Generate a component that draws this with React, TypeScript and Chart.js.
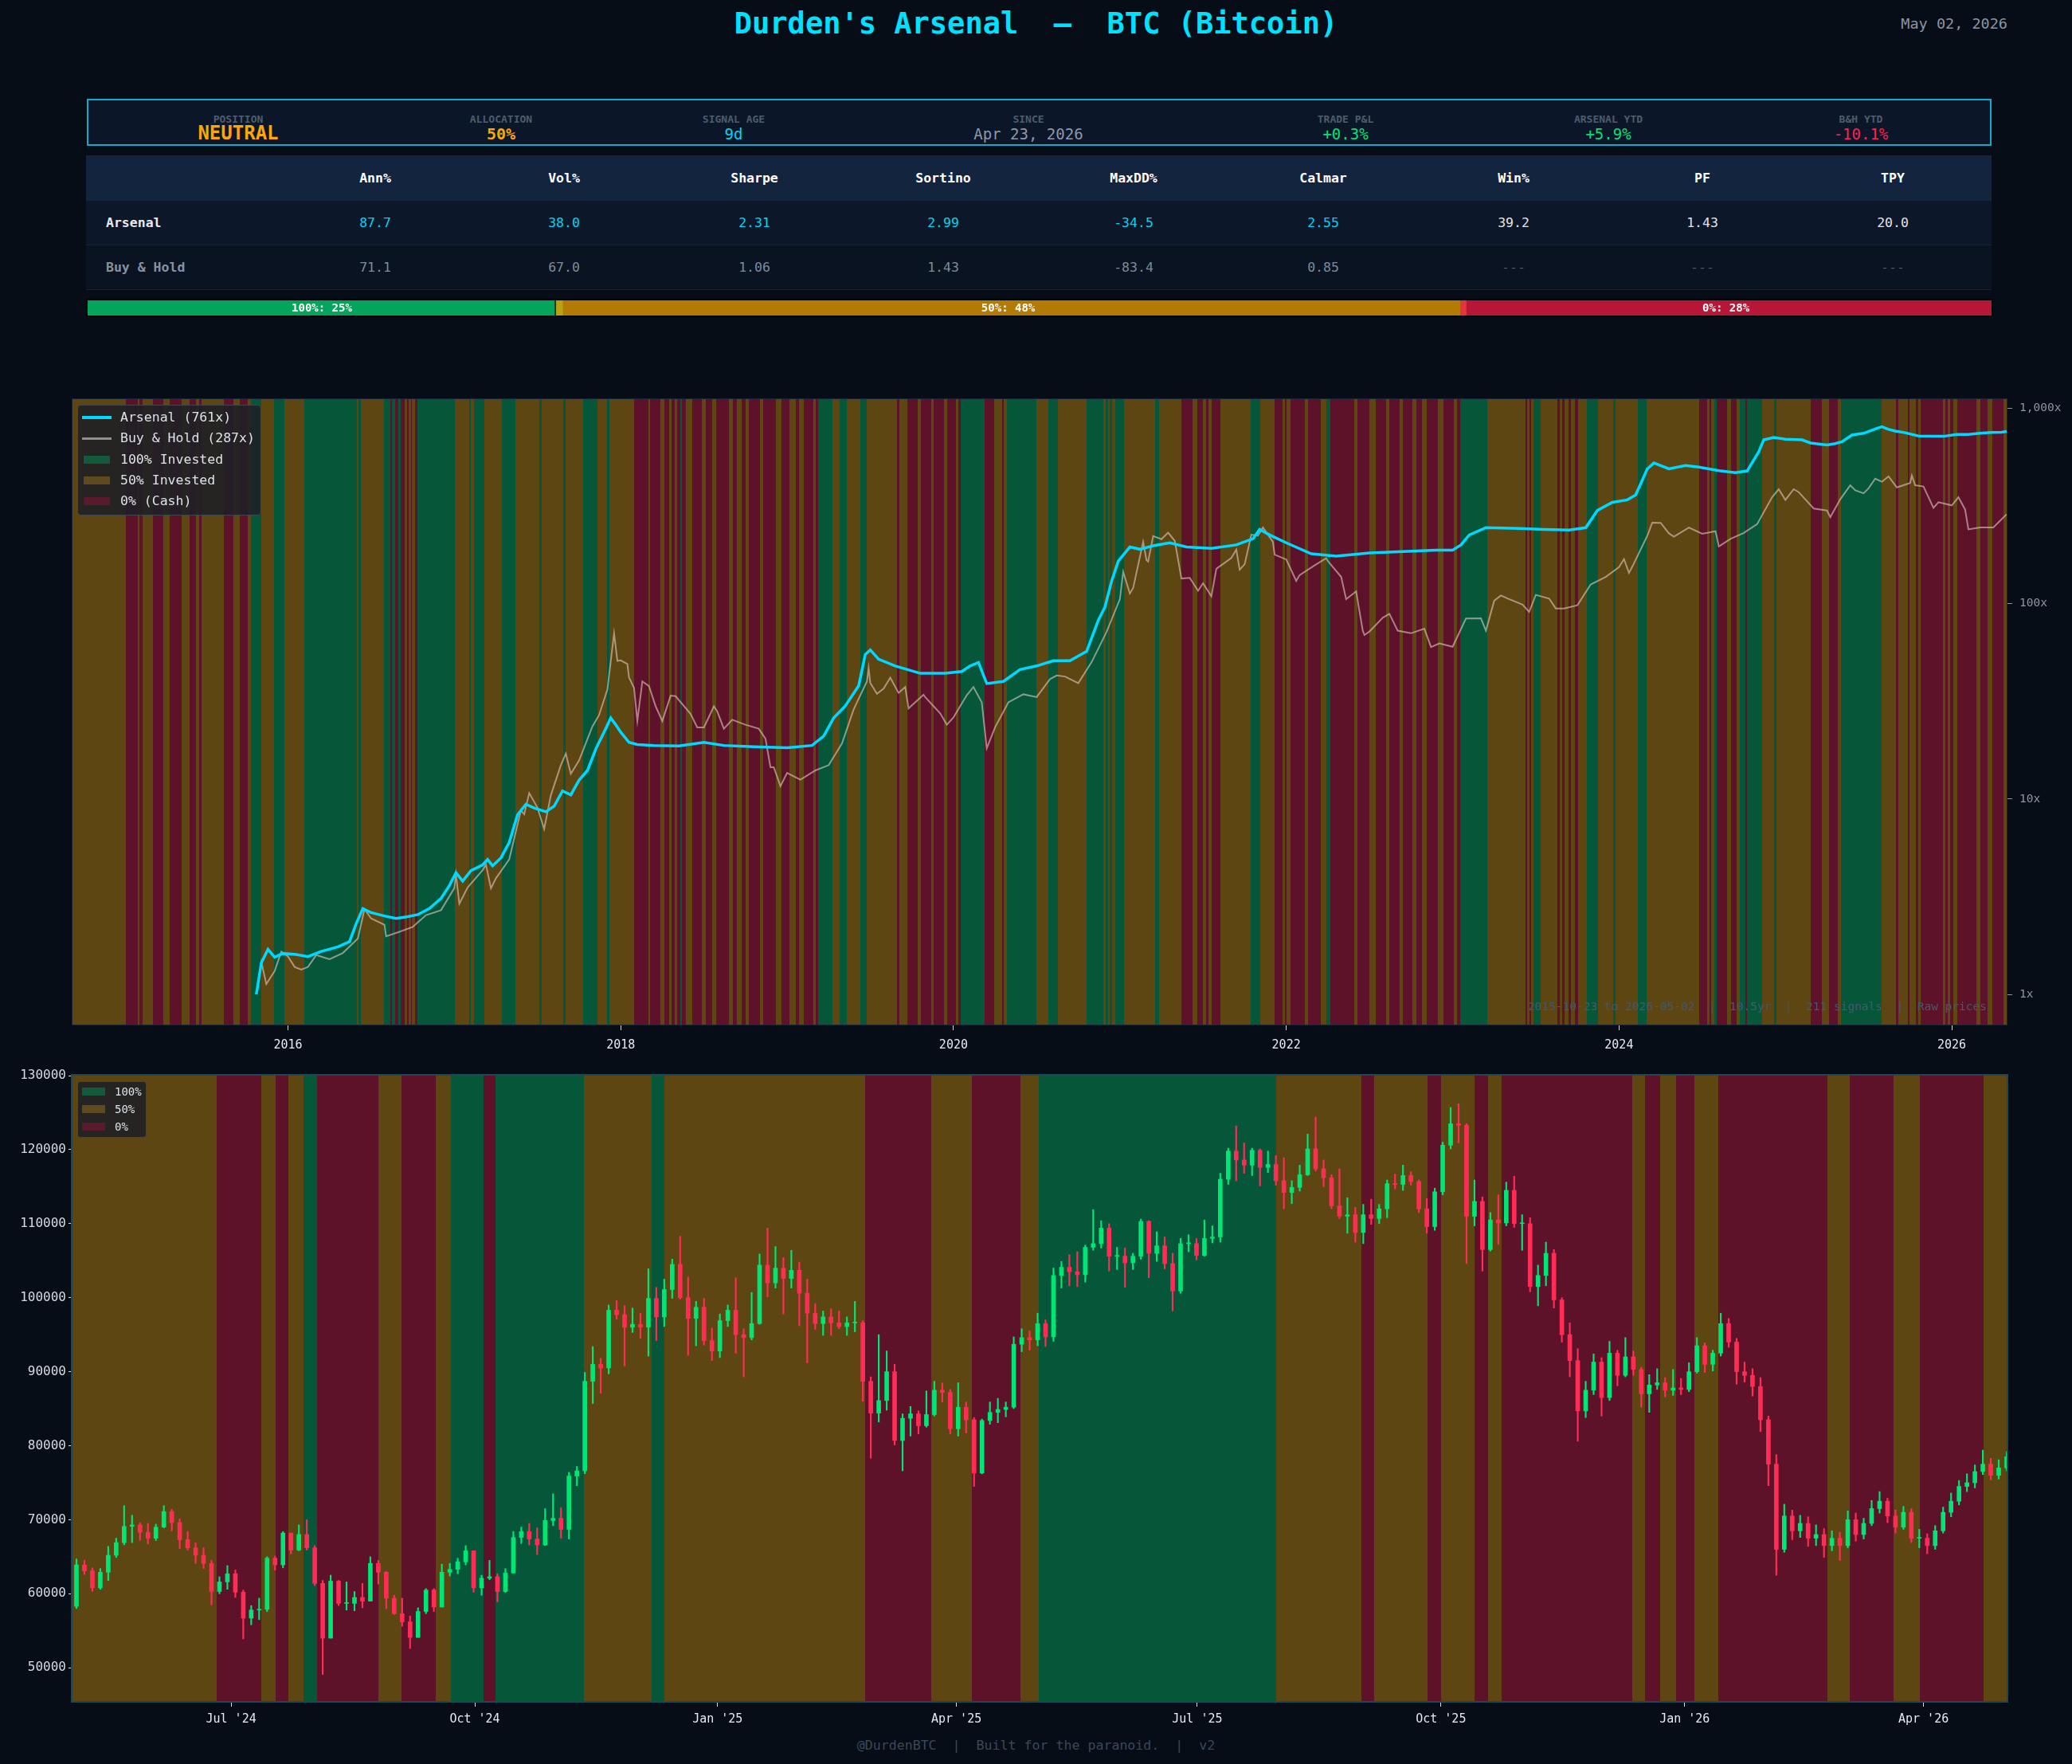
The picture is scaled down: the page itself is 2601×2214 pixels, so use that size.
import React, { useEffect, useRef } from 'react';
import { Chart, registerables } from 'chart.js';
Chart.register(...registerables);

const FONT = "'DejaVu Sans Mono', monospace";
const PAGE_BG = '#070d17';

// ---------------- data ----------------
const TITLE = "Durden's Arsenal  \u2014  BTC (Bitcoin)";
const REPORT_DATE = 'May 02, 2026';
const infoLabels = ['POSITION', 'ALLOCATION', 'SIGNAL AGE', 'SINCE', 'TRADE P&L', 'ARSENAL YTD', 'B&H YTD'];
const infoValues = ['NEUTRAL', '50%', '9d', 'Apr 23, 2026', '+0.3%', '+5.9%', '-10.1%'];

const statColumns = ['Ann%', 'Vol%', 'Sharpe', 'Sortino', 'MaxDD%', 'Calmar', 'Win%', 'PF', 'TPY'];
const arsenalStats = ['87.7', '38.0', '2.31', '2.99', '-34.5', '2.55', '39.2', '1.43', '20.0'];
const buyHoldStats = ['71.1', '67.0', '1.06', '1.43', '-83.4', '0.85', '---', '---', '---'];

const allocLabels = ['100%', '50%', '0%'];
const allocShare = [24.6, 47.5, 27.9];

// regime bands: start (decimal year) and state (2 = 100%, 1 = 50%, 0 = cash)
const bandStarts = [
  2014.705, 2015.024, 2015.099, 2015.109, 2015.124, 2015.189, 2015.252, 2015.290, 2015.362, 2015.410,
  2015.445, 2015.465, 2015.483, 2015.615, 2015.673, 2015.711, 2015.756, 2015.776, 2015.838, 2015.916,
  2015.979, 2016.099, 2016.412, 2016.424, 2016.437, 2016.577, 2016.615, 2016.625, 2016.645, 2016.665,
  2016.677, 2016.702, 2016.715, 2016.725, 2016.738, 2016.745, 2016.763, 2016.778, 2017.003, 2017.088,
  2017.101, 2017.116, 2017.178, 2017.284, 2017.366, 2017.512, 2017.524, 2017.654, 2017.669, 2017.772,
  2017.860, 2017.917, 2017.932, 2018.080, 2018.165, 2018.175, 2018.238, 2018.263, 2018.293, 2018.306,
  2018.323, 2018.341, 2018.356, 2018.366, 2018.391, 2018.431, 2018.489, 2018.511, 2018.549, 2018.574,
  2018.650, 2018.675, 2018.700, 2018.725, 2018.750, 2018.768, 2018.838, 2018.856, 2018.933, 2018.968,
  2019.016, 2019.051, 2019.073, 2019.101, 2019.156, 2019.171, 2019.186, 2019.271, 2019.314, 2019.357,
  2019.442, 2019.477, 2019.662, 2019.675, 2019.725, 2019.785, 2019.805, 2019.868, 2019.883, 2019.943,
  2019.960, 2020.013, 2020.028, 2020.045, 2020.186, 2020.246, 2020.291, 2020.303, 2020.323, 2020.496,
  2020.569, 2020.627, 2020.802, 2020.902, 2020.915, 2020.927, 2020.940, 2020.955, 2020.972, 2021.027,
  2021.213, 2021.238, 2021.368, 2021.436, 2021.466, 2021.501, 2021.516, 2021.531, 2021.551, 2021.603,
  2021.784, 2021.842, 2021.929, 2021.979, 2021.992, 2022.004, 2022.024, 2022.110, 2022.132, 2022.207,
  2022.242, 2022.267, 2022.408, 2022.428, 2022.499, 2022.536, 2022.598, 2022.618, 2022.680, 2022.700,
  2022.759, 2022.782, 2022.816, 2022.846, 2022.911, 2022.943, 2023.005, 2023.025, 2023.045, 2023.206,
  2023.437, 2023.449, 2023.461, 2023.474, 2023.486, 2023.528, 2023.628, 2023.643, 2023.660, 2023.675,
  2023.697, 2023.710, 2023.734, 2023.752, 2023.809, 2023.873, 2023.965, 2023.977, 2024.111, 2024.166,
  2024.482, 2024.528, 2024.543, 2024.556, 2024.572, 2024.586, 2024.649, 2024.673, 2024.709, 2024.724,
  2024.758, 2024.770, 2024.862, 2024.932, 2024.945, 2025.153, 2025.221, 2025.263, 2025.313, 2025.332,
  2025.578, 2025.666, 2025.679, 2025.734, 2025.748, 2025.783, 2025.797, 2025.811, 2025.946, 2025.959,
  2025.975, 2025.991, 2026.010, 2026.035, 2026.148, 2026.171, 2026.216, 2026.243, 2026.309,
];
const bandStates = [
  1, 0, 1, 0, 1, 0, 1, 0, 1, 0,
  1, 0, 1, 0, 1, 0, 1, 2, 1, 2,
  1, 2, 1, 2, 1, 2, 0, 2, 0, 2,
  0, 1, 0, 1, 0, 1, 0, 2, 1, 2,
  1, 2, 1, 2, 1, 2, 1, 2, 1, 2,
  1, 2, 1, 0, 1, 0, 1, 0, 1, 0,
  1, 0, 2, 0, 1, 0, 1, 0, 1, 0,
  1, 0, 1, 0, 1, 0, 1, 0, 1, 0,
  1, 0, 1, 0, 1, 0, 2, 1, 2, 1,
  2, 1, 0, 1, 0, 1, 0, 1, 0, 1,
  0, 1, 0, 2, 0, 1, 0, 1, 2, 1,
  2, 1, 2, 1, 2, 1, 2, 1, 2, 1,
  2, 1, 0, 1, 0, 1, 0, 1, 0, 1,
  2, 1, 0, 1, 0, 1, 0, 1, 0, 1,
  2, 0, 1, 0, 1, 0, 1, 0, 1, 0,
  1, 0, 1, 0, 1, 0, 1, 0, 2, 1,
  0, 1, 0, 1, 2, 1, 0, 1, 0, 1,
  0, 1, 0, 1, 2, 1, 2, 1, 2, 1,
  0, 1, 0, 1, 2, 0, 1, 0, 1, 2,
  0, 2, 1, 2, 1, 0, 1, 0, 1, 2,
  1, 0, 1, 0, 1, 0, 1, 0, 1, 0,
  1, 0, 1, 0, 1, 0, 1, 0, 1,
];

// Arsenal equity multiple
const arsenalYears = [
  2015.81, 2015.84, 2015.88, 2015.92, 2015.97, 2016.05, 2016.12, 2016.20, 2016.30, 2016.37,
  2016.41, 2016.45, 2016.50, 2016.58, 2016.65, 2016.72, 2016.78, 2016.85, 2016.92, 2016.97,
  2017.01, 2017.05, 2017.10, 2017.17, 2017.20, 2017.23, 2017.28, 2017.33, 2017.38, 2017.43,
  2017.48, 2017.55, 2017.60, 2017.65, 2017.70, 2017.75, 2017.80, 2017.85, 2017.90, 2017.94,
  2017.97, 2018.00, 2018.05, 2018.10, 2018.20, 2018.35, 2018.50, 2018.62, 2018.80, 2019.00,
  2019.15, 2019.22, 2019.28, 2019.35, 2019.43, 2019.47, 2019.50, 2019.55, 2019.65, 2019.80,
  2019.95, 2020.05, 2020.10, 2020.15, 2020.20, 2020.30, 2020.40, 2020.50, 2020.60, 2020.70,
  2020.80, 2020.87, 2020.91, 2020.95, 2020.99, 2021.06, 2021.12, 2021.20, 2021.30, 2021.40,
  2021.55, 2021.70, 2021.80, 2021.84, 2021.90, 2022.00, 2022.15, 2022.30, 2022.50, 2022.70,
  2022.90, 2023.00, 2023.05, 2023.10, 2023.20, 2023.40, 2023.55, 2023.70, 2023.80, 2023.87,
  2023.96, 2024.05, 2024.10, 2024.17, 2024.21, 2024.30, 2024.40, 2024.48, 2024.60, 2024.70,
  2024.77, 2024.84, 2024.87, 2024.93, 2025.00, 2025.10, 2025.15, 2025.25, 2025.30, 2025.34,
  2025.40, 2025.47, 2025.55, 2025.58, 2025.62, 2025.66, 2025.72, 2025.80, 2025.95, 2026.03,
  2026.10, 2026.17, 2026.24, 2026.30, 2026.33,
];
const arsenalMult = [
  1.00, 1.45, 1.70, 1.55, 1.62, 1.60, 1.56, 1.66, 1.75, 1.86,
  2.30, 2.75, 2.62, 2.52, 2.45, 2.50, 2.56, 2.75, 3.10, 3.60,
  4.20, 3.80, 4.30, 4.60, 4.90, 4.55, 5.00, 6.00, 8.30, 9.40,
  9.00, 8.60, 9.20, 11.0, 10.5, 12.5, 14.0, 18.0, 22.0, 26.0,
  24.0, 22.0, 19.5, 19.0, 18.8, 18.7, 19.5, 18.8, 18.5, 18.3,
  18.8, 21.0, 26.0, 30.0, 38.0, 55.0, 58.0, 52.0, 48.0, 44.0,
  44.0, 45.0, 48.0, 50.0, 39.0, 40.0, 46.0, 48.0, 51.0, 51.0,
  57.0, 82.0, 96.0, 130, 165, 195, 190, 198, 205, 195,
  192, 200, 215, 240, 225, 205, 180, 175, 182, 185,
  188, 188, 200, 225, 245, 243, 240, 238, 245, 300,
  330, 340, 360, 490, 525, 490, 510, 500, 480, 468,
  478, 600, 690, 710, 695, 690, 665, 650, 660, 675,
  730, 745, 790, 805, 780, 765, 750, 722, 719, 735,
  735, 745, 752, 754, 761,
];

// BTC price (USD) for Buy & Hold
const btcYears = [
  2015.81, 2015.84, 2015.87, 2015.92, 2015.96, 2016.00, 2016.04, 2016.08, 2016.12, 2016.17,
  2016.25, 2016.33, 2016.42, 2016.46, 2016.50, 2016.58, 2016.59, 2016.67, 2016.75, 2016.83,
  2016.92, 2017.00, 2017.01, 2017.03, 2017.08, 2017.17, 2017.19, 2017.22, 2017.25, 2017.33,
  2017.40, 2017.42, 2017.45, 2017.50, 2017.54, 2017.58, 2017.64, 2017.67, 2017.70, 2017.75,
  2017.83, 2017.87, 2017.92, 2017.96, 2017.98, 2018.00, 2018.04, 2018.05, 2018.08, 2018.10,
  2018.13, 2018.17, 2018.21, 2018.25, 2018.30, 2018.33, 2018.42, 2018.46, 2018.50, 2018.56,
  2018.58, 2018.62, 2018.67, 2018.75, 2018.83, 2018.87, 2018.90, 2018.92, 2018.96, 2019.00,
  2019.08, 2019.17, 2019.25, 2019.33, 2019.40, 2019.42, 2019.48, 2019.49, 2019.50, 2019.54,
  2019.58, 2019.62, 2019.67, 2019.71, 2019.73, 2019.75, 2019.82, 2019.83, 2019.92, 2019.96,
  2020.00, 2020.08, 2020.12, 2020.17, 2020.20, 2020.25, 2020.33, 2020.42, 2020.50, 2020.58,
  2020.62, 2020.67, 2020.75, 2020.83, 2020.92, 2021.00, 2021.02, 2021.06, 2021.08, 2021.14,
  2021.16, 2021.17, 2021.20, 2021.25, 2021.29, 2021.33, 2021.37, 2021.42, 2021.47, 2021.50,
  2021.55, 2021.58, 2021.67, 2021.70, 2021.72, 2021.75, 2021.79, 2021.83, 2021.86, 2021.92,
  2021.93, 2022.00, 2022.06, 2022.08, 2022.17, 2022.24, 2022.25, 2022.33, 2022.36, 2022.42,
  2022.46, 2022.47, 2022.50, 2022.58, 2022.62, 2022.67, 2022.75, 2022.83, 2022.87, 2022.92,
  2023.00, 2023.08, 2023.17, 2023.20, 2023.25, 2023.29, 2023.33, 2023.42, 2023.46, 2023.50,
  2023.58, 2023.62, 2023.67, 2023.75, 2023.83, 2023.92, 2024.00, 2024.03, 2024.06, 2024.08,
  2024.17, 2024.20, 2024.25, 2024.30, 2024.33, 2024.42, 2024.50, 2024.58, 2024.60, 2024.67,
  2024.75, 2024.83, 2024.92, 2024.96, 2025.00, 2025.05, 2025.08, 2025.17, 2025.25, 2025.27,
  2025.33, 2025.39, 2025.42, 2025.47, 2025.50, 2025.54, 2025.58, 2025.62, 2025.67, 2025.75,
  2025.76, 2025.78, 2025.83, 2025.89, 2025.92, 2026.00, 2026.04, 2026.08, 2026.10, 2026.17,
  2026.25, 2026.33,
];
const btcPrice = [
  275, 403, 311, 362, 455, 430, 380, 368, 380, 437,
  416, 448, 531, 750, 673, 624, 545, 575, 609, 700,
  742, 963, 1130, 800, 970, 1190, 1270, 960, 1080, 1350,
  2400, 2300, 2950, 2480, 1930, 2875, 4100, 4700, 3700, 4340,
  6470, 7400, 10000, 19400, 14000, 14100, 13500, 11500, 10200, 6900,
  11000, 10400, 8200, 6900, 9300, 9240, 7500, 6400, 6400, 8200,
  7730, 6300, 7000, 6600, 6300, 5600, 4000, 4000, 3200, 3740,
  3450, 3850, 4100, 5300, 7900, 8600, 11000, 12900, 10800, 9500,
  10100, 11500, 9600, 10300, 8000, 8300, 9400, 9150, 7550, 6600,
  7200, 9350, 10300, 8600, 5000, 6400, 8600, 9450, 9140, 11300,
  11800, 11650, 10780, 13800, 19700, 29000, 40000, 31000, 33100, 57000,
  46000, 45200, 61000, 58800, 63500, 57700, 37000, 37300, 32000, 35000,
  30000, 41500, 47100, 52000, 41000, 43800, 62000, 61300, 67500, 57000,
  49000, 46300, 36000, 38500, 43200, 47000, 45500, 37700, 29000, 31800,
  20000, 19000, 19800, 23300, 24400, 20000, 19400, 20500, 16500, 17200,
  16550, 23100, 23150, 20000, 28500, 30300, 29250, 27200, 25000, 30500,
  29200, 26000, 26000, 27000, 34500, 37700, 42300, 46500, 39500, 42600,
  61200, 71500, 71300, 63000, 60600, 67500, 62700, 64600, 54000, 59000,
  63300, 70200, 96400, 106000, 93400, 106000, 102400, 84400, 82500, 76300,
  94200, 111000, 104600, 101000, 107100, 120000, 115700, 123300, 108200, 114000,
  124500, 111000, 109500, 85000, 91000, 87600, 96500, 83500, 66000, 67500,
  67500, 78900,
];

const multTickValues = [1, 10, 100, 1000];
const multTickLabels = ['1x', '10x', '100x', '1,000x'];
const yearTicks = [2016, 2018, 2020, 2022, 2024, 2026];
const TOP_X_MIN = 2014.705;
const TOP_X_MAX = 2026.33;
const TOP_Y_MIN = 0.73;
const TOP_Y_MAX = 1114;

// Candles (3-day bars, thousands of USD), first bar opens 2024-05-02
const CANDLE_START = 2024.333;
const CANDLE_STEP_DAYS = 3;
const candleFirstOpen = 58.3;
const candleClose = [
  63.9, 63.1, 60.8, 62.9, 65.2, 66.9, 69.1, 69.3, 68.3, 67.5,
  69.0, 71.1, 69.6, 67.3, 66.2, 65.2, 64.1, 60.3, 61.6, 62.7,
  60.2, 56.7, 57.8, 57.9, 64.8, 63.9, 68.2, 65.9, 68.0, 66.2,
  61.4, 54.0, 61.7, 58.7, 58.7, 59.5, 59.0, 64.1, 62.9, 59.4,
  57.3, 56.2, 54.1, 57.6, 60.5, 58.2, 62.9, 63.3, 64.3, 65.8,
  60.8, 62.1, 62.3, 60.3, 62.8, 67.6, 68.4, 67.4, 66.6, 69.9, 70.2,
  68.7, 75.9, 76.6, 88.7, 91.0, 90.5, 98.3, 97.7, 96.0, 96.4,
  96.0, 99.9, 97.4, 101.1, 104.5, 100.0, 97.2, 98.7, 94.2, 92.8,
  96.9, 98.3, 95.0, 94.6, 96.5, 104.4, 102.0, 104.0, 102.6, 103.7,
  100.6, 97.9, 96.5, 97.4, 96.6, 96.1, 96.6, 96.6, 88.7, 84.4,
  86.1, 90.0, 80.7, 83.7, 84.3, 82.7, 84.2, 87.5, 87.2, 82.3,
  85.2, 83.5, 76.3, 83.4, 84.5, 84.9, 85.2, 93.7, 94.6, 94.3,
  96.5, 94.7, 103.0, 104.1, 103.5, 103.1, 106.8, 107.3, 109.4, 105.6,
  105.6, 104.7, 105.6, 110.3, 106.0, 107.0, 104.6, 100.9, 107.3, 107.3,
  105.7, 108.0, 108.2, 116.0, 119.8, 118.6, 117.9, 119.9, 117.6, 118.0, 115.8,
  114.2, 114.9, 116.6, 120.1, 117.4, 116.2, 112.4, 111.0, 111.2, 108.8,
  111.2, 110.7, 112.0, 115.4, 115.3, 116.5, 115.7, 112.0, 109.6, 114.3,
  120.6, 123.5, 123.3, 111.0, 113.0, 106.5, 110.5, 110.1, 114.5, 110.0,
  110.0, 101.5, 103.0, 106.0, 99.7, 95.0, 91.5, 84.7, 87.5, 91.3,
  86.5, 92.5, 89.5, 92.0, 90.3, 87.0, 88.2, 88.5, 87.5, 87.8, 87.6,
  90.0, 93.5, 91.0, 92.5, 96.5, 94.0, 90.0, 89.5, 88.0, 83.5,
  77.5, 66.0, 70.5, 68.5, 69.5, 67.5, 68.0, 66.5, 67.5,
  66.5, 70.0, 68.0, 69.5, 71.5, 72.5, 70.5, 69.0, 71.0, 67.5, 67.5,
  66.5, 68.5, 71.0, 72.5, 74.5, 75.0, 76.5, 77.5, 76.0, 77.0,
  78.5,
];
const candleHigh = [
  64.7, 64.5, 63.5, 63.4, 66.4, 67.5, 71.9, 70.6, 69.6, 69.5,
  69.4, 71.9, 71.4, 70.1, 68.4, 66.9, 66.2, 64.5, 62.3, 63.8,
  63.2, 60.5, 58.4, 59.4, 65.0, 65.1, 68.4, 68.2, 69.3, 70.0,
  66.5, 61.8, 62.5, 61.8, 61.6, 60.3, 61.4, 65.0, 64.5, 63.0,
  59.8, 59.4, 57.0, 58.1, 60.7, 60.7, 64.0, 64.1, 64.8, 66.5,
  65.8, 62.5, 64.5, 62.7, 63.4, 68.4, 69.0, 69.5, 68.9, 71.5, 73.5,
  71.6, 76.4, 77.2, 89.9, 93.4, 91.8, 99.0, 99.6, 98.9, 98.6,
  97.9, 103.9, 101.4, 102.5, 105.2, 108.3, 102.8, 99.5, 99.9, 95.9,
  97.8, 99.0, 102.7, 95.8, 100.7, 105.9, 109.4, 106.9, 105.4, 106.4,
  104.8, 102.5, 99.2, 98.2, 98.5, 98.2, 97.4, 99.5, 96.9, 89.3,
  95.0, 92.8, 91.0, 84.3, 85.3, 84.7, 87.4, 88.7, 88.5, 87.6,
  88.5, 85.9, 83.8, 83.6, 85.9, 86.4, 85.9, 94.7, 95.8, 95.5,
  97.9, 97.0, 104.0, 104.9, 105.8, 106.2, 107.1, 111.9, 110.4, 110.0,
  106.8, 106.7, 106.0, 110.6, 110.4, 108.9, 108.2, 106.0, 108.0, 108.5,
  108.0, 110.5, 109.7, 116.8, 120.2, 123.2, 120.9, 120.2, 120.1, 119.8, 119.2,
  118.9, 115.8, 117.9, 122.1, 124.4, 118.6, 116.6, 117.4, 113.5, 112.2,
  112.6, 113.3, 112.6, 115.9, 116.7, 117.9, 117.0, 115.9, 113.4, 114.8,
  121.0, 125.7, 126.2, 123.5, 115.9, 113.6, 111.5, 113.9, 115.6, 116.4,
  111.2, 110.8, 104.4, 107.5, 106.5, 100.0, 96.6, 93.1, 88.7, 92.4,
  91.9, 94.1, 92.9, 94.6, 92.8, 90.6, 89.6, 90.4, 89.2, 90.3, 89.1,
  91.2, 94.6, 93.9, 92.9, 97.9, 97.2, 94.5, 91.3, 90.4, 89.2,
  84.0, 78.8, 72.1, 71.3, 70.6, 70.4, 69.3, 68.8, 68.5,
  68.3, 71.2, 70.9, 70.2, 72.6, 73.8, 72.9, 71.3, 71.8, 71.5, 68.7,
  68.1, 69.2, 71.7, 73.6, 75.3, 76.2, 77.4, 79.4, 78.3, 78.1,
  79.2,
];
const candleLow = [
  58.0, 62.6, 60.3, 60.6, 61.8, 64.9, 66.6, 66.9, 67.2, 66.7,
  67.2, 68.9, 68.5, 66.1, 65.9, 64.1, 63.4, 58.5, 60.0, 60.6,
  59.5, 53.9, 55.8, 56.5, 57.6, 63.2, 63.5, 65.4, 65.8, 65.9,
  61.1, 49.1, 54.0, 58.4, 57.8, 57.7, 58.1, 59.0, 61.3, 58.0,
  57.2, 55.6, 52.6, 54.1, 57.3, 57.6, 58.2, 62.4, 62.7, 63.9,
  60.2, 59.8, 61.9, 58.9, 60.2, 62.8, 66.8, 66.6, 65.3, 66.5, 69.2,
  67.5, 67.4, 74.6, 76.2, 85.7, 87.1, 89.7, 97.1, 90.8, 95.3,
  94.5, 92.1, 94.2, 96.1, 99.9, 99.8, 92.2, 93.5, 93.6, 91.5,
  91.9, 96.1, 92.5, 89.3, 94.3, 96.4, 100.1, 101.3, 97.8, 101.3,
  96.2, 91.2, 95.7, 94.9, 94.9, 95.8, 94.9, 95.4, 86.0, 78.3,
  83.2, 84.8, 80.1, 76.6, 81.3, 81.6, 82.5, 84.0, 85.9, 81.6,
  81.3, 81.7, 74.5, 76.2, 82.9, 83.1, 83.9, 85.0, 92.7, 92.9,
  93.5, 93.4, 94.1, 101.3, 101.6, 101.5, 102.1, 106.4, 106.7, 103.6,
  103.8, 101.4, 103.8, 105.2, 102.7, 104.9, 103.9, 98.2, 100.6, 106.2,
  105.1, 105.6, 107.4, 107.5, 115.3, 115.8, 116.8, 116.5, 115.1, 116.9, 115.2,
  112.0, 112.7, 114.4, 116.5, 117.1, 115.0, 112.0, 110.7, 108.7, 107.5,
  107.3, 109.9, 110.0, 110.8, 114.7, 114.5, 115.2, 111.5, 108.7, 109.1,
  113.9, 120.1, 120.9, 104.6, 109.7, 103.6, 106.3, 107.2, 109.7, 109.5,
  106.4, 100.8, 98.9, 101.6, 98.6, 94.0, 89.3, 80.6, 83.8, 86.9,
  84.0, 86.1, 88.1, 89.3, 89.5, 85.2, 84.5, 87.6, 86.6, 86.8, 86.9,
  87.3, 89.8, 89.9, 90.1, 92.1, 93.3, 88.3, 88.6, 86.7, 81.9,
  74.6, 62.5, 65.6, 67.3, 67.6, 66.4, 66.5, 64.9, 65.8,
  64.5, 66.2, 67.1, 67.4, 69.2, 70.9, 69.6, 68.2, 68.7, 66.9, 66.2,
  65.4, 66.0, 68.2, 70.4, 72.0, 73.8, 74.3, 76.1, 75.4, 75.5,
  76.6,
];
const BOT_X_MIN = 2024.333;
const BOT_X_MAX = 2026.333;
const BOT_Y_MIN = 45500;
const BOT_Y_MAX = 130000;
const priceTicks = [50000, 60000, 70000, 80000, 90000, 100000, 110000, 120000, 130000];
const monthTickYears = [2024.497, 2024.749, 2025.0, 2025.247, 2025.496, 2025.748, 2026.0, 2026.247];
const monthTickLabels = ["Jul '24", "Oct '24", "Jan '25", "Apr '25", "Jul '25", "Oct '25", "Jan '26", "Apr '26"];

// ---------------- styles ----------------
const BAND_COLORS = ['#5e1229', '#5d4612', '#06573a'];
const UP = '#00e676';
const DOWN = '#ff2d55';
const infoCenters = [299, 629, 921, 1291, 1689, 2019, 2336];
const infoColors = ['#ffa502', '#ffa502', '#00d4f0', '#8b98a8', '#00e07a', '#00e07a', '#ff2050'];
const colCenters = [471, 708, 947, 1184, 1423, 1661, 1900, 2137, 2376];

function bandsPlugin(id: string) {
  return {
    id,
    beforeDatasetsDraw(chart: any) {
      const { ctx, chartArea: a } = chart;
      const xs = chart.scales.x;
      ctx.save();
      ctx.beginPath();
      ctx.rect(a.left, a.top, a.right - a.left, a.bottom - a.top);
      ctx.clip();
      for (let i = 0; i < bandStarts.length; i++) {
        const s = bandStarts[i];
        const e = i + 1 < bandStarts.length ? bandStarts[i + 1] : xs.max;
        if (e <= xs.min || s >= xs.max) continue;
        const x0 = Math.round(xs.getPixelForValue(Math.max(s, xs.min)));
        const x1 = Math.round(xs.getPixelForValue(Math.min(e, xs.max)));
        ctx.fillStyle = BAND_COLORS[bandStates[i]];
        ctx.fillRect(x0, a.top, Math.max(1, x1 - x0), a.bottom - a.top);
      }
      ctx.restore();
    },
  };
}

function framePlugin(id: string, color: string, width: number) {
  return {
    id,
    afterDatasetsDraw(chart: any) {
      const { ctx, chartArea: a } = chart;
      ctx.save();
      ctx.strokeStyle = color;
      ctx.lineWidth = width;
      ctx.strokeRect(a.left - width / 2, a.top - width / 2, a.right - a.left + width, a.bottom - a.top + width);
      ctx.restore();
    },
  };
}

const noPadV = (s: any, w: number) => { s.width = w; s.paddingTop = 0; s.paddingBottom = 0; };
const noPadH = (s: any, h: number) => { s.height = h; s.paddingLeft = 0; s.paddingRight = 0; };

export default function App() {
  const topRef = useRef<HTMLCanvasElement>(null);
  const botRef = useRef<HTMLCanvasElement>(null);
  const allocRef = useRef<HTMLCanvasElement>(null);

  useEffect(() => {
    document.body.style.margin = '0';
    document.body.style.background = PAGE_BG;
    Chart.defaults.font.family = FONT;
    const charts: Chart[] = [];

    // allocation bar
    if (allocRef.current) {
      const allocColors = ['#04a55a', '#b47a06', '#b61736'];
      const allocBorders = ['#0a3a22', '#b8a214', '#e3353c'];
      const allocBorderW = [{ right: 2 }, { left: 9 }, { left: 8 }];
      charts.push(new Chart(allocRef.current, {
        type: 'bar',
        data: {
          labels: ['alloc'],
          datasets: allocShare.map((v, i) => ({
            label: allocLabels[i],
            data: [v],
            backgroundColor: allocColors[i],
            borderColor: allocBorders[i],
            borderWidth: allocBorderW[i] as any,
            borderSkipped: false,
            barPercentage: 1,
            categoryPercentage: 1,
          })),
        },
        options: {
          indexAxis: 'y',
          responsive: false,
          animation: false,
          events: [],
          layout: { padding: 0 },
          plugins: { legend: { display: false }, tooltip: { enabled: false } },
          scales: {
            x: { display: false, stacked: true, min: 0, max: 100 },
            y: { display: false, stacked: true },
          },
        },
        plugins: [{
          id: 'allocText',
          afterDatasetsDraw(chart: any) {
            const { ctx } = chart;
            ctx.save();
            ctx.fillStyle = '#ffffff';
            ctx.font = `bold 14px ${FONT}`;
            ctx.textAlign = 'center';
            ctx.textBaseline = 'middle';
            chart.data.datasets.forEach((_d: any, i: number) => {
              const el = chart.getDatasetMeta(i).data[0];
              ctx.fillText(`${allocLabels[i]}: ${Math.round(allocShare[i])}%`, (el.x + el.base) / 2, el.y + 1);
            });
            ctx.restore();
          },
        }],
      } as any));
    }

    // top equity chart
    if (topRef.current) {
      charts.push(new Chart(topRef.current, {
        type: 'line',
        data: {
          datasets: [
            {
              label: 'Arsenal',
              data: arsenalYears.map((x, i) => ({ x, y: arsenalMult[i] })),
              borderColor: '#00d9ff',
              borderWidth: 3.5,
              pointRadius: 0,
              tension: 0,
              order: 0,
            },
            {
              label: 'Buy & Hold',
              data: btcYears.map((x, i) => ({ x, y: btcPrice[i] / btcPrice[0] })),
              borderColor: 'rgba(222,205,195,0.6)',
              borderWidth: 2,
              pointRadius: 0,
              tension: 0,
              order: 1,
            },
          ],
        },
        options: {
          responsive: false,
          animation: false,
          events: [],
          layout: { padding: { left: 91, right: 12, top: 11, bottom: 0 } },
          plugins: { legend: { display: false }, tooltip: { enabled: false } },
          scales: {
            x: {
              type: 'linear',
              min: TOP_X_MIN,
              max: TOP_X_MAX,
              afterBuildTicks: (s: any) => { s.ticks = yearTicks.map((v) => ({ value: v })); },
              afterFit: (s: any) => noPadH(s, 44),
              grid: { drawOnChartArea: false, drawTicks: true, tickLength: 7, color: '#cfd5dc' },
              border: { display: false },
              ticks: { color: '#e6e9ee', font: { size: 15, family: FONT }, padding: 10, maxRotation: 0, autoSkip: false, callback: (v: any) => String(v) },
            },
            y: {
              type: 'logarithmic',
              position: 'right',
              min: TOP_Y_MIN,
              max: TOP_Y_MAX,
              afterBuildTicks: (s: any) => { s.ticks = multTickValues.map((v) => ({ value: v })); },
              afterFit: (s: any) => noPadV(s, 70),
              grid: { drawOnChartArea: false, drawTicks: true, tickLength: 7, color: '#8a96a3' },
              border: { display: false },
              ticks: {
                color: '#8a96a3',
                font: { size: 14.5, family: FONT },
                padding: 9,
                autoSkip: false,
                callback: (v: any) => {
                  const k = multTickValues.indexOf(Number(v));
                  return k >= 0 ? multTickLabels[k] : '';
                },
              },
            },
          },
        },
        plugins: [bandsPlugin('bandsTop'), framePlugin('frameTop', '#1a2636', 1)],
      } as any));
    }

    // bottom candle chart
    if (botRef.current) {
      const opens = candleClose.map((_c, i) => (i === 0 ? candleFirstOpen : candleClose[i - 1]));
      const xs = candleClose.map((_c, i) => CANDLE_START + (i * CANDLE_STEP_DAYS + CANDLE_STEP_DAYS / 2) / 365.25);
      const cols = candleClose.map((c, i) => (c >= opens[i] ? UP : DOWN));
      charts.push(new Chart(botRef.current, {
        type: 'bar',
        data: {
          datasets: [
            {
              label: 'bodies',
              data: candleClose.map((c, i) => ({ x: xs[i], y: [opens[i] * 1000, c * 1000] })),
              backgroundColor: cols,
              borderWidth: 0,
              barThickness: 5,
              minBarLength: 1,
              grouped: false,
              order: 0,
            },
            {
              label: 'wicks',
              data: candleClose.map((_c, i) => ({ x: xs[i], y: [candleLow[i] * 1000, candleHigh[i] * 1000] })),
              backgroundColor: cols,
              borderWidth: 0,
              barThickness: 1.5,
              grouped: false,
              order: 1,
            },
          ],
        },
        options: {
          responsive: false,
          animation: false,
          events: [],
          layout: { padding: { left: 5, right: 82, top: 10, bottom: 0 } },
          plugins: { legend: { display: false }, tooltip: { enabled: false } },
          scales: {
            x: {
              type: 'linear',
              min: BOT_X_MIN,
              max: BOT_X_MAX,
              offset: false,
              afterBuildTicks: (s: any) => { s.ticks = monthTickYears.map((v) => ({ value: v })); },
              afterFit: (s: any) => noPadH(s, 45),
              grid: { drawOnChartArea: false, drawTicks: true, tickLength: 7, color: '#d6dbe2', offset: false },
              border: { display: false },
              ticks: {
                color: '#e6e9ee',
                font: { size: 15, family: FONT },
                padding: 7,
                maxRotation: 0,
                autoSkip: false,
                callback: (v: any) => {
                  const k = monthTickYears.indexOf(Number(v));
                  return k >= 0 ? monthTickLabels[k] : '';
                },
              },
            },
            y: {
              type: 'linear',
              position: 'left',
              min: BOT_Y_MIN,
              max: BOT_Y_MAX,
              afterBuildTicks: (s: any) => { s.ticks = priceTicks.map((v) => ({ value: v })); },
              afterFit: (s: any) => noPadV(s, 86),
              grid: { drawOnChartArea: false, drawTicks: true, tickLength: 5, color: '#d6dbe2' },
              border: { display: false },
              ticks: { color: '#d6dbe2', font: { size: 16, family: FONT }, padding: 3, autoSkip: false, callback: (v: any) => String(v) },
            },
          },
        },
        plugins: [bandsPlugin('bandsBot'), framePlugin('frameBot', '#1e4656', 2)],
      } as any));
    }

    return () => { charts.forEach((c) => c.destroy()); };
  }, []);

  const abs = (s: React.CSSProperties): React.CSSProperties => ({ position: 'absolute', whiteSpace: 'pre', ...s });
  const topLegend = [
    { kind: 'line', color: '#00d9ff', h: 4, text: 'Arsenal (761x)' },
    { kind: 'line', color: '#8e8e8e', h: 3, text: 'Buy & Hold (287x)' },
    { kind: 'patch', color: '#135a3c', h: 10, text: '100% Invested' },
    { kind: 'patch', color: '#5e4a1c', h: 10, text: '50% Invested' },
    { kind: 'patch', color: '#5a1a2e', h: 10, text: '0% (Cash)' },
  ];
  const botLegend = [
    { color: '#135a3c', text: '100%' },
    { color: '#5e4a1c', text: '50%' },
    { color: '#5a1a2e', text: '0%' },
  ];

  return (
    <div style={{ position: 'absolute', left: 0, top: 0, width: 2601, height: 2214, background: PAGE_BG, fontFamily: FONT, overflow: 'hidden' }}>
      <div style={abs({ left: 0, top: 8, width: 2601, textAlign: 'center', color: '#00e1ff', fontSize: 37, fontWeight: 'bold', lineHeight: '44px' })}>{TITLE}</div>
      <div style={abs({ right: 81, top: 19, color: '#8b95a1', fontSize: 18.5, lineHeight: '22px' })}>{REPORT_DATE}</div>

      {/* info strip */}
      <div style={abs({ left: 109, top: 124, width: 2391, height: 59, boxSizing: 'border-box', border: '2px solid #15a8c8', background: '#0b1729' })} />
      {infoLabels.map((l, i) => (
        <div key={'il' + i} style={abs({ left: infoCenters[i], top: 141.5, transform: 'translateX(-50%)', fontSize: 13, lineHeight: '16px', color: '#4e5c6b', fontWeight: 'bold' })}>{l}</div>
      ))}
      {infoValues.map((v, i) => (
        <div key={'iv' + i} style={abs({
          left: infoCenters[i],
          top: i === 0 ? 153 : 156,
          transform: 'translateX(-50%)',
          fontSize: i === 0 ? 24 : i === 1 ? 20 : 19,
          lineHeight: i === 0 ? '28px' : '24px',
          fontWeight: i < 2 ? 'bold' : 'normal',
          color: infoColors[i],
        })}>{v}</div>
      ))}

      {/* stats table */}
      <div style={abs({ left: 108, top: 195, width: 2392, height: 57, background: '#13243f' })} />
      <div style={abs({ left: 108, top: 252, width: 2392, height: 55, background: '#0c1729' })} />
      <div style={abs({ left: 108, top: 307, width: 2392, height: 1, background: '#17253c' })} />
      <div style={abs({ left: 108, top: 308, width: 2392, height: 55, background: '#0a1321' })} />
      <div style={abs({ left: 108, top: 363, width: 2392, height: 1, background: '#15223a' })} />
      {statColumns.map((c, i) => (
        <div key={'h' + i} style={abs({ left: colCenters[i], top: 214, transform: 'translateX(-50%)', fontSize: 16.5, lineHeight: '20px', fontWeight: 'bold', color: '#ffffff' })}>{c}</div>
      ))}
      <div style={abs({ left: 133, top: 270, fontSize: 16.5, lineHeight: '20px', fontWeight: 'bold', color: '#e6eaf0' })}>Arsenal</div>
      <div style={abs({ left: 133, top: 326, fontSize: 16.5, lineHeight: '20px', fontWeight: 'bold', color: '#8792a0' })}>Buy &amp; Hold</div>
      {arsenalStats.map((v, i) => (
        <div key={'a' + i} style={abs({ left: colCenters[i], top: 270, transform: 'translateX(-50%)', fontSize: 16.5, lineHeight: '20px', color: i < 6 ? '#00d4f0' : '#e0e4ea' })}>{v}</div>
      ))}
      {buyHoldStats.map((v, i) => (
        <div key={'b' + i} style={abs({ left: colCenters[i], top: 326, transform: 'translateX(-50%)', fontSize: 16.5, lineHeight: '20px', color: v === '---' ? '#4a5663' : '#7f8b99' })}>{v}</div>
      ))}

      {/* allocation bar */}
      <div style={abs({ left: 108, top: 375, width: 2394, height: 23, background: '#02050a' })} />
      <canvas ref={allocRef} width={2390} height={19} style={{ position: 'absolute', left: 110, top: 377, width: 2390, height: 19, display: 'block' }} />

      {/* charts */}
      <canvas ref={topRef} width={2601} height={840} style={{ position: 'absolute', left: 0, top: 490, width: 2601, height: 840, display: 'block' }} />
      <canvas ref={botRef} width={2601} height={840} style={{ position: 'absolute', left: 0, top: 1340, width: 2601, height: 840, display: 'block' }} />

      {/* top legend */}
      <div style={abs({ left: 97, top: 508, width: 231, height: 139, boxSizing: 'border-box', background: 'rgba(30,32,38,0.88)', border: '1px solid rgba(72,82,94,0.75)', borderRadius: 5 })} />
      {topLegend.map((e, i) => {
        const cy = 524 + i * 26.3;
        return (
          <React.Fragment key={'tl' + i}>
            <div style={abs(e.kind === 'line'
              ? { left: 103, top: cy - e.h / 2, width: 37, height: e.h, background: e.color }
              : { left: 105, top: cy - e.h / 2, width: 33, height: e.h, background: e.color })} />
            <div style={abs({ left: 151, top: cy - 10, fontSize: 16.5, lineHeight: '20px', color: '#dde2e8' })}>{e.text}</div>
          </React.Fragment>
        );
      })}
      <div style={abs({ right: 107, top: 1254, fontSize: 14.5, lineHeight: '18px', color: '#45586c' })}>
        {'2015-10-23 to 2026-05-02  |  10.5yr  |  211 signals  |  Raw prices'}
      </div>

      {/* bottom legend */}
      <div style={abs({ left: 97, top: 1357, width: 87, height: 71, boxSizing: 'border-box', background: 'rgba(30,32,38,0.88)', border: '1px solid rgba(72,82,94,0.75)', borderRadius: 4 })} />
      {botLegend.map((e, i) => {
        const cy = 1370 + i * 22;
        return (
          <React.Fragment key={'bl' + i}>
            <div style={abs({ left: 103, top: cy - 5, width: 29, height: 10, background: e.color })} />
            <div style={abs({ left: 144, top: cy - 9, fontSize: 14, lineHeight: '18px', color: '#dde2e8' })}>{e.text}</div>
          </React.Fragment>
        );
      })}

      <div style={abs({ left: 0, top: 2181, width: 2601, textAlign: 'center', fontSize: 16.6, lineHeight: '20px', color: '#3a4858' })}>
        {'@DurdenBTC  |  Built for the paranoid.  |  v2'}
      </div>
    </div>
  );
}
